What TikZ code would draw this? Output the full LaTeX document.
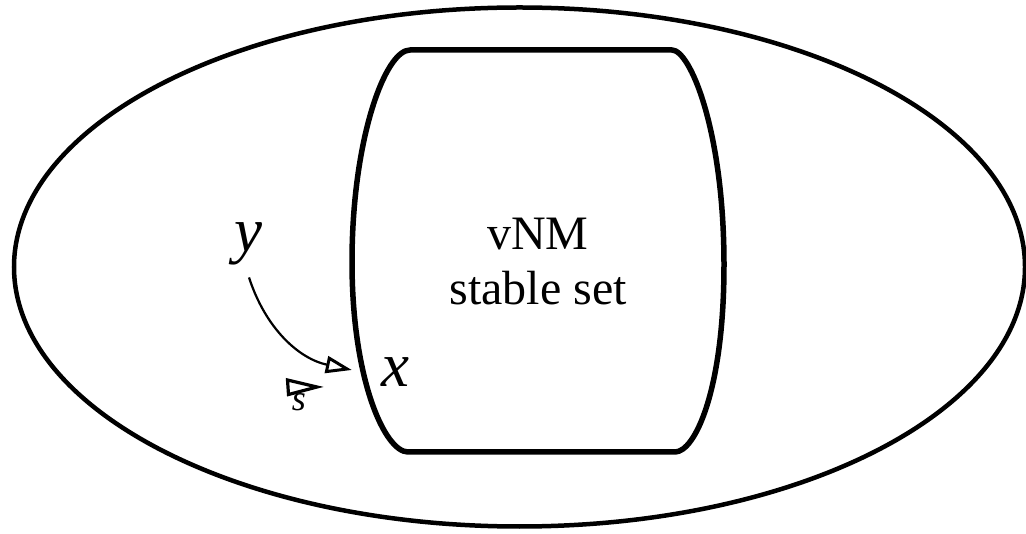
\documentclass[tikz,border=0pt]{standalone}
\usepackage{fontspec}
\setmainfont{Liberation Serif}
\usetikzlibrary{arrows.meta}
\begin{document}
\begin{tikzpicture}[x=1pt,y=-1pt,
  region/.style={line width=5.5pt, line join=round},
  outer/.style={line width=4.5pt},
  var/.style={inner sep=0pt, font=\fontsize{63}{63}\selectfont\itshape},
  dominance/.style={line width=2.2pt,
    -{Triangle[open,length=26pt,width=17pt,line width=3pt]}}]
  \useasboundingbox (0,0) rectangle (1026,534);

  % feasible set
  \draw[outer] (519.5,267) ellipse [x radius=505.5, y radius=259.5];

  % stable set region
  \draw[region] (410,50) -- (672,50)
    .. controls (690,50) and (724,130) .. (724,265)
    .. controls (724,390) and (695,452) .. (675,452)
    -- (408,452)
    .. controls (385,452) and (352,380) .. (352,262)
    .. controls (352,140) and (385,50) .. (410,50) -- cycle;

  \node[align=center, font=\fontsize{48}{55}\selectfont] (vnm) at (538,262)
    {vNM\\stable set};

  % elements and the domination
  \node[var] (y) at (248,244) {y};
  \node[var] (x) at (395,372) {x};
  \path (y.south) ++(1,12) coordinate (ystart);
  \draw[dominance] (ystart) to[out=-72,in=168] ([xshift=-29pt,yshift=2pt]x.west);

  % coalition marker
  \draw[line width=3.2pt, line join=miter] (287.5,380) -- (317,387) -- (288.5,394.5) -- cycle;
  \node[inner sep=0pt, font=\fontsize{36}{36}\selectfont\itshape] (s) at (299,402) {s};
\end{tikzpicture}
\end{document}
